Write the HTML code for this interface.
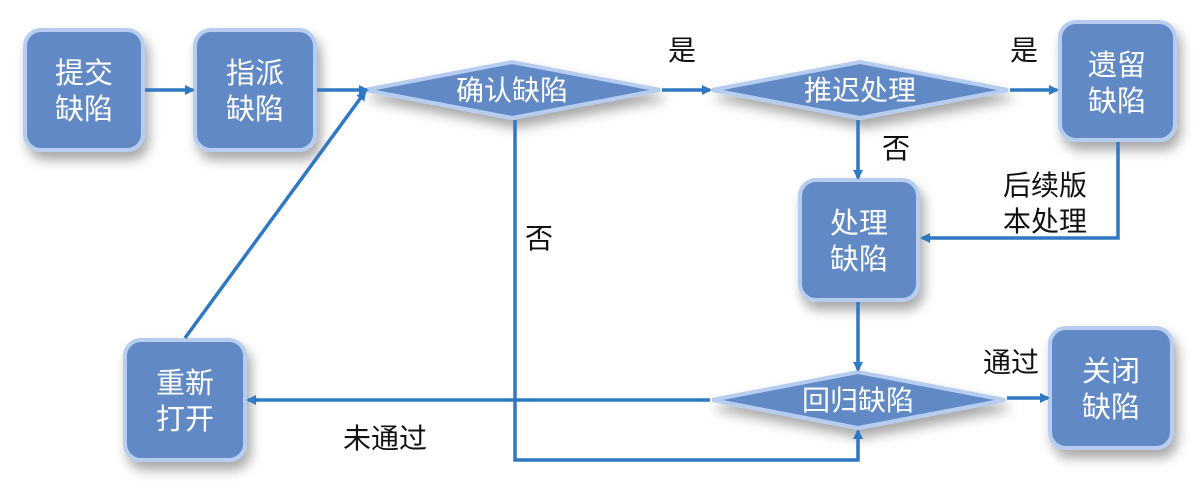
<!DOCTYPE html>
<html><head><meta charset="utf-8"><style>
body{margin:0;background:#fff;}
svg{display:block;font-family:"Liberation Sans","Noto Sans CJK SC",sans-serif;}
</style></head><body>
<svg width="1204" height="494" viewBox="0 0 1204 494" xmlns="http://www.w3.org/2000/svg">
<defs>
<filter id="sh" x="-30%" y="-30%" width="160%" height="170%">
<feGaussianBlur in="SourceAlpha" stdDeviation="6"/><feOffset dx="4" dy="8" result="b"/>
<feComponentTransfer><feFuncA type="linear" slope="0.35"/></feComponentTransfer>
<feMerge><feMergeNode/><feMergeNode in="SourceGraphic"/></feMerge>
</filter>
<marker id="ar" markerWidth="10" markerHeight="10" refX="8" refY="5" orient="auto" markerUnits="userSpaceOnUse"><path d="M0,0 L10,5 L0,10 z" fill="#2f78c4"/></marker>
</defs>
<g fill="#6089c6" stroke="#b7cdf0" stroke-width="4" filter="url(#sh)">
<rect x="25" y="30" width="118" height="120" rx="16"/>
<rect x="195" y="30" width="120" height="120" rx="16"/>
<rect x="1060" y="22" width="115" height="118" rx="16"/>
<rect x="800" y="180" width="118" height="120" rx="16"/>
<rect x="125" y="340" width="120" height="120" rx="16"/>
<rect x="1050" y="328" width="122" height="120" rx="16"/>
<polygon points="365,90 512,62 660,90 512,118"/>
<polygon points="712,90 860,62 1008,90 860,118"/>
<polygon points="712,400 858,372 1005,400 858,428"/>
</g>
<g stroke="#2f78c4" stroke-width="3.5" fill="none" marker-end="url(#ar)">
<line x1="145" y1="90" x2="193" y2="90"/>
<line x1="317" y1="90" x2="367" y2="90"/>
<line x1="185" y1="338" x2="365" y2="92"/>
<line x1="662" y1="90" x2="710" y2="90"/>
<line x1="1010" y1="90" x2="1057" y2="90"/>
<line x1="858" y1="120" x2="858" y2="178"/>
<polyline points="1118,142 1118,238 922,238"/>
<line x1="858" y1="302" x2="858" y2="370"/>
<polyline points="515,120 515,460 858,460 858,431"/>
<line x1="710" y1="400" x2="248" y2="400"/>
<line x1="1007" y1="398" x2="1048" y2="398"/>
</g>
<g fill="#fff" font-size="29" text-anchor="middle">
<text x="84" y="83">提交</text><text x="84" y="119">缺陷</text>
<text x="255" y="83">指派</text><text x="255" y="119">缺陷</text>
<text x="1117" y="75">遗留</text><text x="1117" y="111">缺陷</text>
<text x="859" y="233">处理</text><text x="859" y="269">缺陷</text>
<text x="185" y="393">重新</text><text x="185" y="429">打开</text>
<text x="1111" y="381">关闭</text><text x="1111" y="417">缺陷</text>
<text x="512" y="100" font-size="28">确认缺陷</text>
<text x="860" y="100" font-size="28">推迟处理</text>
<text x="858" y="410" font-size="28">回归缺陷</text>
</g>
<g fill="#111" font-size="28">
<text x="668" y="60">是</text>
<text x="1010" y="60">是</text>
<text x="882" y="158">否</text>
<text x="525" y="248">否</text>
<text x="1003" y="195">后续版</text>
<text x="1003" y="231">本处理</text>
<text x="983" y="372">通过</text>
<text x="343" y="448">未通过</text>
</g>
</svg>
</body></html>
